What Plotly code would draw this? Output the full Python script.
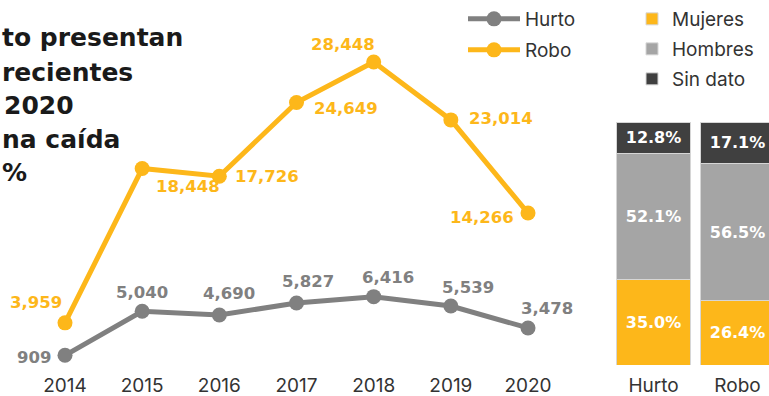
import plotly.graph_objects as go

# --- data -------------------------------------------------------------
years = [2014, 2015, 2016, 2017, 2018, 2019, 2020]
hurto = [909, 5040, 4690, 5827, 6416, 5539, 3478]
robo = [3959, 18448, 17726, 24649, 28448, 23014, 14266]

bar_categories = ["Hurto", "Robo"]
mujeres = [35.0, 26.4]
hombres = [52.1, 56.5]
sin_dato = [12.8, 17.1]

headline_lines = ["to presentan", "recientes", "2020", "na caída", "%"]

# --- styling ----------------------------------------------------------
W, H = 769, 396
YELLOW = "#FDB71A"
GREY_LINE = "#808080"
GREY_BAR = "#A5A5A5"
DARK = "#404040"
TEXT = "#333333"
FONT = "Inter"
BOLD_FONT = "DejaVu Sans"

# label offsets (pixels) relative to each point: (xshift, yshift)
robo_offsets = [(-29, 20), (46, -18), (48, 0), (49, -6), (-31, 18), (50, 1), (-46, -4)]
hurto_offsets = [(-31, -2), (0, 19), (10, 22), (11, 21), (14, 19), (17, 19), (19, 19)]

base_px = 365          # pixel row of the zero line
top_domain = (H - base_px) / H

fig = go.Figure()

fig.add_trace(go.Scatter(
    x=years, y=hurto, name="Hurto", mode="lines+markers",
    line=dict(color=GREY_LINE, width=5), marker=dict(size=15, color=GREY_LINE),
    legend="legend", legendgroup="hurto", xaxis="x", yaxis="y",
    hoverinfo="skip",
))
fig.add_trace(go.Scatter(
    x=years, y=robo, name="Robo", mode="lines+markers",
    line=dict(color=YELLOW, width=5), marker=dict(size=15, color=YELLOW),
    legend="legend", legendgroup="robo", xaxis="x", yaxis="y",
    hoverinfo="skip",
))

for name, vals, col in [("Mujeres", mujeres, YELLOW),
                        ("Hombres", hombres, GREY_BAR),
                        ("Sin dato", sin_dato, DARK)]:
    fig.add_trace(go.Bar(
        x=bar_categories, y=vals, name=name,
        marker=dict(color=col, line=dict(color="#d6d6d6", width=1)),
        text=[f"{v:.1f}%" for v in vals], texttemplate="%{text}",
        textposition="inside", insidetextanchor="middle", textangle=0,
        constraintext="none",
        textfont=dict(family=BOLD_FONT, size=16, color="white", weight="bold"),
        legend="legend2", legendgroup=name, xaxis="x2", yaxis="y2",
        hoverinfo="skip",
    ))

# value labels
annotations = []
for series, vals, offs, col in [("robo", robo, robo_offsets, YELLOW),
                                ("hurto", hurto, hurto_offsets, GREY_LINE)]:
    for yr, v, (dx, dy) in zip(years, vals, offs):
        annotations.append(dict(
            x=yr, y=v, xref="x", yref="y", text=f"{v:,}", showarrow=False,
            xanchor="center", yanchor="middle", xshift=dx, yshift=dy,
            font=dict(family=BOLD_FONT, size=16.5, color=col, weight="bold"),
        ))

# headline fragment at top-left
headline_y = [37, 72, 105, 139, 172]
headline_x = [0, 0, 2, 0, 0]
for txt, yy, xx in zip(headline_lines, headline_y, headline_x):
    annotations.append(dict(
        x=xx / W, y=1 - yy / H, xref="paper", yref="paper", text=txt,
        showarrow=False, xanchor="left", yanchor="middle",
        font=dict(family=BOLD_FONT, size=25, color="#1a1a1a", weight="bold"),
    ))

px_per_year = 77.17
x0 = 2014 - 65 / px_per_year
line_domain_right = 0.75
x1 = x0 + line_domain_right * W / px_per_year

y_max = base_px / 0.01065

bar_left_px = 611.5
bar_unit_px = 84.0
bar_range_hi = -0.5 + (W - bar_left_px) / bar_unit_px
bar_y_max = 100 * base_px / 243.0

fig.update_layout(
    width=W, height=H,
    margin=dict(l=0, r=0, t=0, b=0),
    paper_bgcolor="white", plot_bgcolor="white",
    barmode="stack", bargap=0.13,
    showlegend=True,
    font=dict(family=FONT, color=TEXT),
    xaxis=dict(domain=[0, line_domain_right], range=[x0, x1],
               tickvals=years, ticktext=[str(y) for y in years],
               showgrid=False, zeroline=False, showline=False,
               ticks="", ticklabelstandoff=7,
               tickfont=dict(family=FONT, size=19, color=TEXT),
               fixedrange=True),
    yaxis=dict(domain=[top_domain, 1], range=[0, y_max], visible=False,
               fixedrange=True),
    xaxis2=dict(domain=[bar_left_px / W, 1], range=[-0.5, bar_range_hi],
                anchor="y2", type="category",
                showgrid=False, zeroline=False, showline=False, ticks="",
                ticklabelstandoff=7,
                tickfont=dict(family=FONT, size=19, color=TEXT),
                fixedrange=True),
    yaxis2=dict(domain=[top_domain, 1], range=[0, bar_y_max], visible=False,
                anchor="x2", fixedrange=True),
    legend=dict(x=463 / W, y=1, xanchor="left", yanchor="top",
                font=dict(family=FONT, size=19, color=TEXT),
                bgcolor="rgba(0,0,0,0)", tracegroupgap=3.3,
                traceorder="grouped", itemwidth=52),
    legend2=dict(x=632 / W, y=1, xanchor="left", yanchor="top",
                 font=dict(family=FONT, size=19, color=TEXT),
                 bgcolor="rgba(0,0,0,0)", tracegroupgap=2.3,
                 traceorder="grouped", itemwidth=30),
    annotations=annotations,
)

fig.write_html("out.html")
